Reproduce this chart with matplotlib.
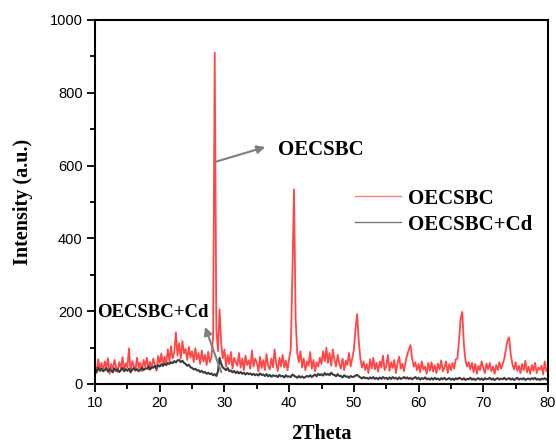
import numpy as np
import matplotlib
matplotlib.use("Agg")
import matplotlib.pyplot as plt
from matplotlib.ticker import MultipleLocator

# 2Theta grid: 10 .. 80 in steps of 0.25 degree
two_theta = np.arange(0, 281) * 0.25 + 10.0

# OECSBC intensities, 4 readings per degree (x.00, x.25, x.50, x.75)
oecsbc = [
    52, 30, 68, 41,   58, 35, 62, 44,   71, 28, 55, 38,   66, 47, 33, 60,   # 10-13
    42, 74, 36, 57,   45, 98, 31, 63,   50, 38, 72, 44,   59, 35, 66, 48,   # 14-17
    72, 40, 61, 43,   70, 52, 36, 77,   57, 84, 49, 75,   55, 95, 62, 104,  # 18-21
    70, 88, 142, 78,  112, 70, 118, 84, 96, 66, 102, 72,  90, 60, 98, 68,   # 22-25
    85, 55, 92, 62,   80, 52, 88, 60,   74, 130, 910, 150, 90, 205, 110, 70, # 26-29
    95, 48, 80, 55,   88, 42, 72, 60,   50, 85, 45, 70,   38, 78, 52, 65,   # 30-33
    42, 92, 48, 70,   58, 35, 75, 44,   66, 38, 82, 50,   40, 70, 46, 95,   # 34-37
    55, 36, 72, 48,   80, 45, 64, 38,   70, 95, 300, 535, 180, 85, 60, 90,  # 38-41
    45, 70, 38, 62,   50, 88, 42, 66,   35, 60, 48, 72,   55, 90, 62, 100,  # 42-45
    58, 85, 50, 95,   66, 48, 80, 55,   42, 70, 38, 64,   52, 85, 48, 70,   # 46-49
    95, 150, 192, 120, 70, 45, 62, 38,  55, 30, 68, 42,   72, 40, 58, 34,   # 50-53
    62, 45, 78, 38,   48, 80, 36, 60,   44, 66, 30, 58,   75, 42, 56, 35,   # 54-57
    62, 80, 95, 107,  70, 48, 60, 38,   55, 32, 62, 40,   48, 28, 58, 36,   # 58-61
    60, 34, 52, 30,   56, 40, 65, 35,   45, 62, 30, 55,   38, 58, 42, 68,   # 62-65
    70, 120, 180, 198, 110, 65, 48, 60, 40, 58, 32, 55,   28, 50, 38, 62,   # 66-69
    45, 30, 56, 40,   58, 35, 48, 28,   52, 38, 60, 42,   55, 70, 95, 120,  # 70-73
    128, 80, 55, 40,  60, 36, 50, 30,   55, 38, 64, 32,   48, 28, 52, 36,   # 74-77
    58, 30, 45, 40,   50, 26, 62, 35,   42,                                  # 78-80
]

# OECSBC+Cd intensities, same grid
oecsbc_cd = [
    40, 33, 45, 36,   42, 35, 38, 44,   34, 41, 37, 32,   43, 36, 40, 33,   # 10-13
    38, 44, 35, 41,   36, 42, 33, 39,   44, 37, 41, 35,   40, 45, 38, 43,   # 14-17
    42, 48, 40, 46,   45, 50, 43, 52,   48, 54, 50, 56,   52, 58, 55, 60,   # 18-21
    57, 63, 59, 65,   66, 60, 64, 58,   55, 50, 53, 46,   44, 40, 42, 37,   # 22-25
    38, 33, 36, 31,   33, 28, 31, 27,   29, 24, 27, 22,   35, 72, 55, 45,   # 26-29
    42, 38, 44, 35,   37, 32, 36, 30,   34, 29, 33, 28,   31, 26, 30, 27,   # 30-33
    29, 25, 28, 24,   27, 23, 29, 25,   26, 22, 27, 21,   25, 20, 24, 22,   # 34-37
    23, 19, 25, 21,   22, 18, 24, 20,   21, 19, 26, 23,   20, 17, 22, 18,   # 38-41
    21, 17, 19, 22,   20, 24, 19, 23,   26, 21, 28, 24,   27, 23, 30, 25,   # 42-45
    28, 24, 31, 26,   25, 21, 27, 22,   22, 18, 24, 20,   21, 17, 22, 19,   # 46-49
    20, 23, 25, 21,   18, 15, 19, 16,   17, 14, 18, 15,   19, 14, 17, 13,   # 50-53
    18, 14, 19, 15,   17, 13, 18, 14,   19, 15, 17, 13,   18, 14, 16, 19,   # 54-57
    15, 18, 14, 17,   13, 16, 19, 14,   17, 12, 16, 14,   18, 13, 15, 12,   # 58-61
    16, 12, 17, 13,   15, 11, 16, 13,   17, 12, 14, 16,   12, 15, 11, 16,   # 62-65
    13, 17, 15, 12,   16, 11, 14, 13,   17, 12, 15, 11,   14, 16, 12, 15,   # 66-69
    11, 16, 13, 14,   17, 12, 15, 11,   14, 16, 12, 15,   13, 17, 12, 14,   # 70-73
    16, 12, 15, 11,   14, 17, 12, 15,   13, 16, 11, 14,   15, 12, 16, 13,   # 74-77
    17, 12, 14, 11,   15, 13, 16, 12,   14,                                  # 78-80
]

series_labels = ["OECSBC", "OECSBC+Cd"]
x_ticks = [10, 20, 30, 40, 50, 60, 70, 80]
y_ticks = [0, 200, 400, 600, 800, 1000]

red = "#FF4747"
dark = "#3C3C3C"

fig = plt.figure(figsize=(5.56, 4.43), dpi=100)
ax = fig.add_axes([0.1709, 0.1332, 0.9856 - 0.1709, 0.9549 - 0.1332])

ax.plot(two_theta, oecsbc, color=red, lw=1.3, label=series_labels[0])
ax.plot(two_theta, oecsbc_cd, color=dark, lw=1.5, label=series_labels[1])

ax.set_xlim(10, 80)
ax.set_ylim(0, 1000)
ax.set_xticks(x_ticks)
ax.set_yticks(y_ticks)
ax.xaxis.set_minor_locator(MultipleLocator(5))
ax.yaxis.set_minor_locator(MultipleLocator(100))
ax.tick_params(which="major", direction="out", length=6, width=1.3,
               labelsize=10.5, pad=3, top=False, right=False)
ax.tick_params(which="minor", direction="out", length=3.5, width=1.3,
               top=False, right=False)
for lab in ax.get_xticklabels() + ax.get_yticklabels():
    lab.set_fontfamily("Liberation Sans")
for s in ax.spines.values():
    s.set_linewidth(1.5)

serif_bold = dict(family="Liberation Serif", weight="bold")
ax.set_xlabel("2Theta", fontsize=14.5, labelpad=10, **serif_bold)
ax.set_ylabel("Intensity (a.u.)", fontsize=14.5, labelpad=12, **serif_bold)

arrow_style = dict(arrowstyle="-|>", color="#7F7F7F", lw=1.5,
                   mutation_scale=12, shrinkA=0, shrinkB=0)
ax.annotate("", xy=(36.3, 651), xytext=(28.55, 610), arrowprops=arrow_style)
ax.text(38.3, 643, "OECSBC", fontsize=15, va="center", ha="left", **serif_bold)
ax.annotate("", xy=(27.0, 157), xytext=(29.5, 33), arrowprops=arrow_style)
ax.text(10.3, 196, "OECSBC+Cd", fontsize=13.5, va="center", ha="left", **serif_bold)

leg = ax.legend(loc="upper left", bbox_to_anchor=(0.575, 0.537), frameon=False,
                prop=dict(family="Liberation Serif", weight="bold", size=15),
                handlelength=2.2, handletextpad=0.3, labelspacing=0.3,
                borderpad=0, borderaxespad=0)
for line in leg.get_lines():
    line.set_linewidth(1.0)
    line.set_alpha(0.7)

fig.savefig("out.png", dpi=100)
